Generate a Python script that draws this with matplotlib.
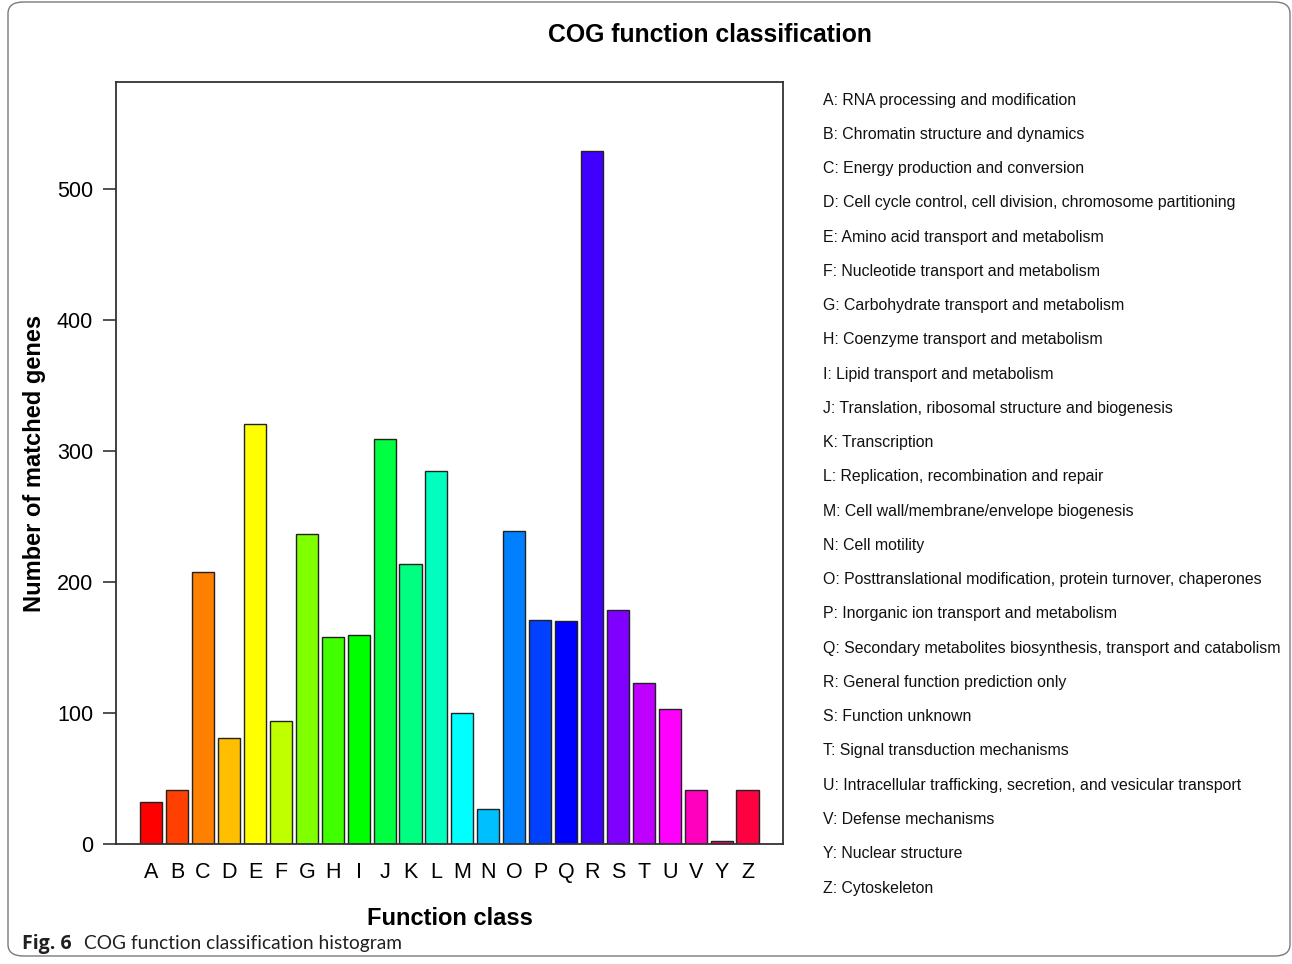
import colorsys
import matplotlib
matplotlib.use("Agg")
import matplotlib.pyplot as plt
from matplotlib.patches import FancyBboxPatch

# COG categories and matched gene counts
categories = ["A", "B", "C", "D", "E", "F", "G", "H", "I", "J", "K", "L",
              "M", "N", "O", "P", "Q", "R", "S", "T", "U", "V", "Y", "Z"]
counts = [32, 41, 208, 81, 321, 94, 237, 158, 160, 309, 214, 285,
          100, 27, 239, 171, 170, 529, 179, 123, 103, 41, 2, 41]
descriptions = [
    "RNA processing and modification",
    "Chromatin structure and dynamics",
    "Energy production and conversion",
    "Cell cycle control, cell division, chromosome partitioning",
    "Amino acid transport and metabolism",
    "Nucleotide transport and metabolism",
    "Carbohydrate transport and metabolism",
    "Coenzyme transport and metabolism",
    "Lipid transport and metabolism",
    "Translation, ribosomal structure and biogenesis",
    "Transcription",
    "Replication, recombination and repair",
    "Cell wall/membrane/envelope biogenesis",
    "Cell motility",
    "Posttranslational modification, protein turnover, chaperones",
    "Inorganic ion transport and metabolism",
    "Secondary metabolites biosynthesis, transport and catabolism",
    "General function prediction only",
    "Function unknown",
    "Signal transduction mechanisms",
    "Intracellular trafficking, secretion, and vesicular transport",
    "Defense mechanisms",
    "Nuclear structure",
    "Cytoskeleton",
]
y_ticks = [0, 100, 200, 300, 400, 500]

plt.rcParams["font.family"] = ["Liberation Sans", "DejaVu Sans"]

W, H = 1292, 964
fig = plt.figure(figsize=(W / 100, H / 100), dpi=100)

# rounded frame around the whole figure
frame = FancyBboxPatch((8 / W, 8 / H), (1290 - 8) / W, (962 - 8) / H,
                       boxstyle="round,pad=0,rounding_size=0.012",
                       transform=fig.transFigure, facecolor="none",
                       edgecolor="#7a7a7a", linewidth=1.0, zorder=0)
fig.patches.append(frame)

ax = fig.add_axes([116 / W, (H - 844) / H, (783 - 116) / W, (844 - 82) / H])

# rainbow palette, one hue per category
n = len(categories)
colors = [colorsys.hsv_to_rgb(i / n, 1.0, 1.0) for i in range(n)]

x = list(range(n))
ax.bar(x, counts, width=0.85, color=colors, edgecolor="#222222", linewidth=1.0)

ax.set_xlim(-1.36, 24.37)
ax.set_ylim(0, 582)
ax.set_yticks(y_ticks)
ax.set_yticklabels([str(v) for v in y_ticks], fontsize=15.5)
ax.tick_params(axis="y", direction="out", length=9.4, width=1.2, pad=7,
               color="#333333")
ax.set_xticks(x)
ax.set_xticklabels(categories, fontsize=15.5)
ax.tick_params(axis="x", length=0, pad=13)
for sp in ax.spines.values():
    sp.set_linewidth(1.3)
    sp.set_color("#333333")

ax.set_ylabel("Number of matched genes", fontsize=17, fontweight="bold",
              labelpad=8)
ax.set_xlabel("Function class", fontsize=17, fontweight="bold", labelpad=17)

fig.text(710 / W, 1 - 35 / H, "COG function classification", fontsize=17.8,
         fontweight="bold", ha="center", va="center")

# category descriptions listed to the right of the plot
top_y, bot_y = 100, 888
step = (bot_y - top_y) / (n - 1)
for i, (c, d) in enumerate(zip(categories, descriptions)):
    fig.text(823 / W, 1 - (top_y + i * step) / H, f"{c}: {d}",
             fontsize=11.45, ha="left", va="center", color="#111111")

# figure caption
cap_y = 1 - 944 / H
fig.text(22 / W, cap_y, "Fig. 6", fontsize=14, fontweight="bold",
         family=["Open Sans", "DejaVu Sans"], ha="left", va="center",
         color="#231f20")
fig.text(84 / W, cap_y, "COG function classification histogram", fontsize=13.8,
         family=["Lato", "DejaVu Sans"], ha="left", va="center",
         color="#231f20")

fig.savefig("out.png", dpi=100)
